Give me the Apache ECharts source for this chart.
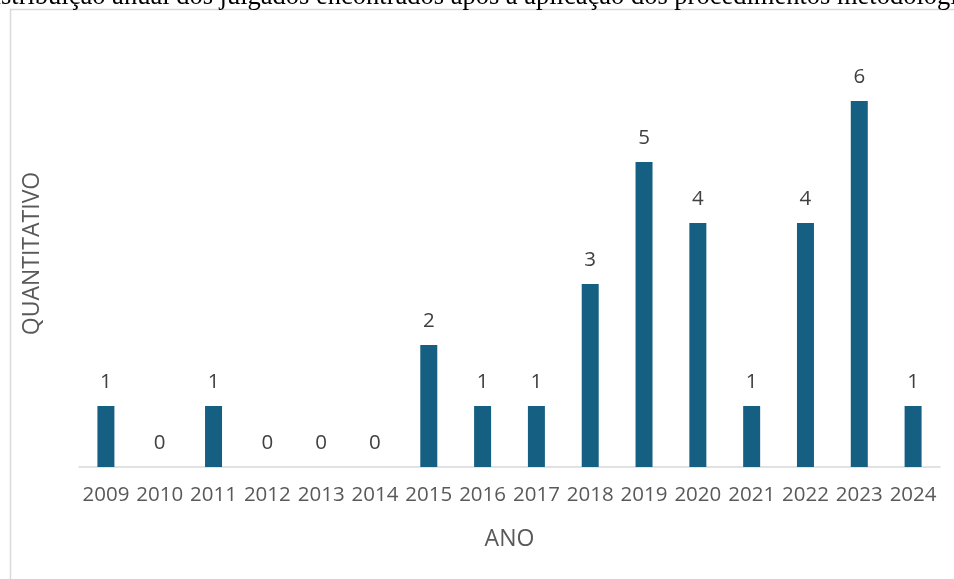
<!DOCTYPE html>
<html><head><meta charset="utf-8">
<script src="https://cdn.jsdelivr.net/npm/echarts@6/dist/echarts.min.js"></script>
<style>html,body{margin:0;padding:0;background:#fff;}#c{width:954px;height:579px;}</style>
</head><body><div id="c"></div>
<script>
var categories = ["2009","2010","2011","2012","2013","2014","2015","2016","2017","2018","2019","2020","2021","2022","2023","2024"];
var values = [1,0,1,0,0,0,2,1,1,3,5,4,1,4,6,1];
var titleText = "Distribuição anual dos julgados encontrados após a aplicação dos procedimentos metodológicos";
var xTitle = "ANO";
var yTitle = "QUANTITATIVO";

var titleFont = "26.5px 'Liberation Serif'";
var cv = document.createElement('canvas').getContext('2d');
cv.font = titleFont;
var shift = cv.measureText("Di").width;

var chart = echarts.init(document.getElementById('c'), null, {renderer:'canvas'});
chart.setOption({
  animation:false,
  backgroundColor:'#ffffff',
  grid:{left:79, right:14, top:40, bottom:112},
  xAxis:{type:'category', data:categories,
    axisLine:{lineStyle:{color:'#d9d9d9', width:1.5}},
    axisTick:{show:false},
    axisLabel:{interval:0, color:'#595959', fontSize:20.5, fontFamily:'Open Sans', margin:18},
    name:xTitle, nameLocation:'middle', nameGap:61,
    nameTextStyle:{color:'#595959', fontSize:23, fontFamily:'Open Sans'}},
  yAxis:{type:'value', min:0, max:7, interval:1, show:true,
    axisLine:{show:false}, axisTick:{show:false}, axisLabel:{show:false}, splitLine:{show:false},
    name:yTitle, nameLocation:'middle', nameGap:35, nameRotate:90,
    nameTextStyle:{color:'#595959', fontSize:23, fontFamily:'Open Sans'}},
  series:[{type:'bar', data:values, barWidth:17,
    itemStyle:{color:'#156082'},
    label:{show:true, position:'top', distance:13, color:'#404040', fontSize:20.5, fontFamily:'Open Sans'}}],
  graphic:[
    {type:'rect', shape:{x:10.5, y:9.5, width:1000, height:600}, style:{fill:null, stroke:'#d9d9d9', lineWidth:1.5}, z:-1},
    {type:'text', x:-shift+1, y:-16, style:{text:titleText, font:titleFont, fill:'#000000', textVerticalAlign:'top'}}
  ]
});
</script></body></html>
